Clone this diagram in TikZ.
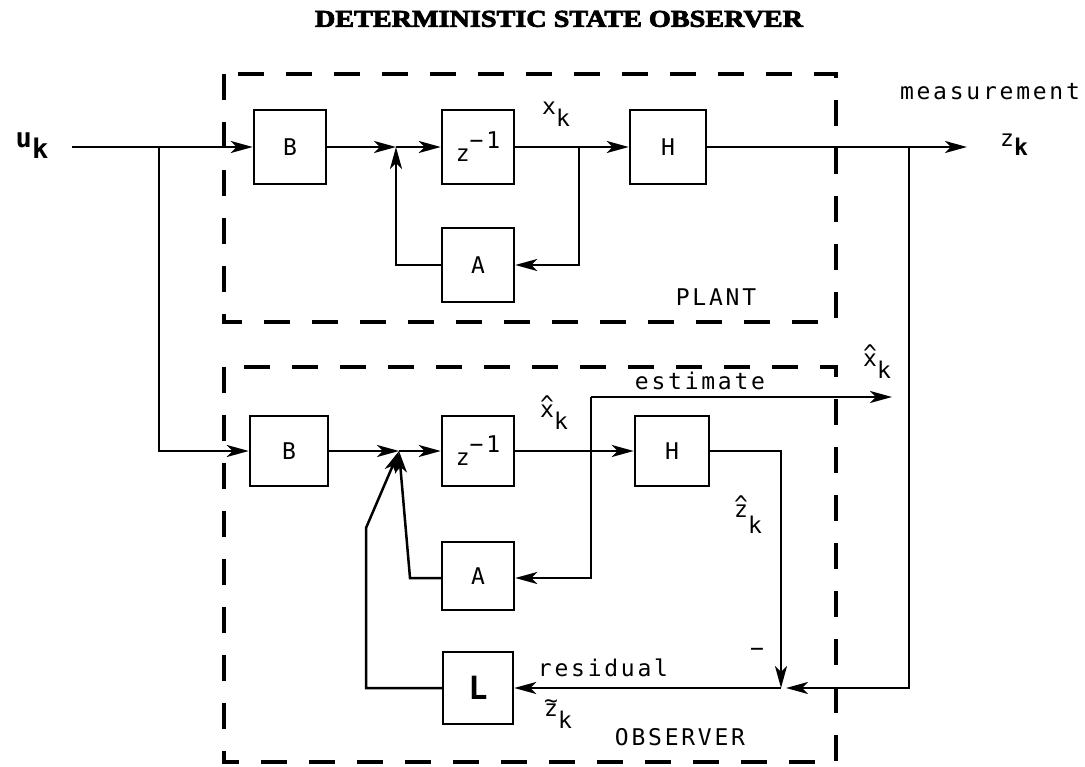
\documentclass[tikz,border=0pt]{standalone}
\usepackage{fontspec}
\setmainfont{Liberation Serif}[BoldFeatures={FakeBold=3}]
\newfontfamily\pf[LetterSpace=12]{DejaVu Sans Mono}
\usetikzlibrary{arrows.meta}
\newcommand\hatx[1]{\makebox[0pt][l]{\raisebox{5pt}{\char"5E}}#1}
\newcommand\tildez[1]{\makebox[0pt][l]{\raisebox{8pt}{\char"7E}}#1}
\begin{document}
\begin{tikzpicture}[x=1pt,y=-1pt,
  blk/.style={draw, line width=2.5pt, minimum width=72pt, minimum height=74pt, inner sep=0pt,
              font=\pf\fontsize{23}{23}\selectfont},
  arr/.style={line width=2.5pt, -{Stealth[length=22pt,width=12pt,inset=6pt]}},
  dsh/.style={line width=3.5pt, dash pattern=on 26pt off 22pt},
  lbl/.style={font=\pf\fontsize{23}{23}\selectfont, inner sep=0pt}]
\useasboundingbox (0,0) rectangle (1085,767);

% title
\node (title) at (559,19) {\resizebox{488pt}{16pt}{\bfseries DETERMINISTIC STATE OBSERVER}};

% dashed boxes
\draw[dsh] (224,74) rectangle (836,322);
\draw[dsh] (224,367) rectangle (836,762);

% plant blocks
\node[blk] (Bp) at (290,147) {B};
\node[blk] (Zp) at (478,147) {z\raisebox{13pt}{−1}};
\node[blk] (Ap) at (478,265) {A};
\node[blk, minimum width=76pt] (Hp) at (668,147) {H};

% observer blocks
\node[blk, minimum width=78pt, minimum height=70pt] (Bo) at (289,451) {B};
\node[blk, minimum height=70pt] (Zo) at (478,451) {z\raisebox{13pt}{−1}};
\node[blk, minimum height=68pt] (Ao) at (478,576) {A};
\node[blk, minimum width=74pt, minimum height=70pt] (Ho) at (672,451) {H};
\node[blk, minimum width=70pt, minimum height=72pt, font=\pf\bfseries\fontsize{32}{32}\selectfont] (Lo) at (478,688) {L};

% coordinates
\coordinate (uin) at (72,147);
\coordinate (jp) at (396,147);
\coordinate (bx) at (579,147);
\coordinate (bz) at (909,147);
\coordinate (ztip) at (967,147);
\coordinate (bu) at (159,147);
\coordinate (jo) at (399,451);
\coordinate (est0) at (591,397);
\coordinate (esttip) at (892,397);
\coordinate (jr) at (781,688);
\coordinate (lc1) at (366,688);
\coordinate (lc2) at (366,528);
\coordinate (ac) at (410,578);

% plant connectors
\draw[arr] (uin) -- (Bp.west);
\draw[arr] (Bp.east) -- (jp);
\draw[arr] (jp) -- (Zp.west);
\draw[arr] (Ap.west) -| (jp);
\draw[arr] (Zp.east) -- (Hp.west);
\draw[arr] (bx) |- (Ap.east);
\draw[arr] (Hp.east) -- (ztip);
\draw[arr, shorten >=5pt] (bz) |- (jr);

% observer connectors
\draw[arr] (bu) |- (Bo.west);
\draw[arr] (Bo.east) -- (jo);
\draw[arr] (jo) -- (Zo.west);
\draw[arr] (Ao.west |- ac) -- (ac) -- (jo);
\draw[arr] (Lo.west) -- (lc1) -- (lc2) -- (jo);
\draw[arr] (Zo.east) -- (Ho.west);
\draw[arr] (est0) |- (Ao.east |- ac);
\draw[arr] (est0) -- (esttip);
\draw[arr] (Ho.east) -| (jr);
\draw[arr] (jr) -- (Lo.east);

% labels
\node[lbl, font=\pf\bfseries\fontsize{27}{27}\selectfont] (uk) at (32,146) {u\raisebox{-11pt}{k}};
\node[lbl] (xk) at (556,114) {x\raisebox{-12pt}{k}};
\node[lbl] (zk) at (1014,145) {z\raisebox{-9pt}{\bfseries k}};
\node[lbl] (meas) at (990,92) {measurement};
\node[lbl] (plant) at (716,297) {PLANT};
\node[lbl] (est) at (700,381) {estimate};
\node[lbl] (xhk) at (877,362) {\hatx{x}\raisebox{-12pt}{k}};
\node[lbl] (xhko) at (554,413) {\hatx{x}\raisebox{-12pt}{k}};
\node[lbl] (zhk) at (748,515) {\hatx{z}\raisebox{-16pt}{k}};
\node[lbl] (minus) at (757,652) {−};
\node[lbl] (resid) at (603,668) {residual};
\node[lbl] (ztk) at (558,714) {\tildez{z}\raisebox{-12pt}{k}};
\node[lbl] (obs) at (680,737) {OBSERVER};
\end{tikzpicture}
\end{document}
